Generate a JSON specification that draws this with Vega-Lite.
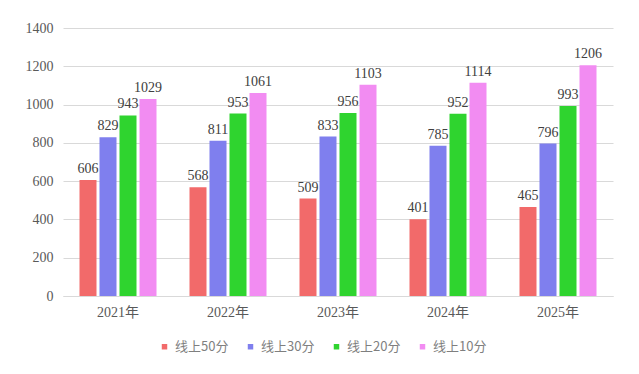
{
  "$schema": "https://vega.github.io/schema/vega-lite/v6.json",
  "width": 550,
  "height": 268,
  "autosize": {"type": "none"},
  "padding": {"left": 63, "top": 28, "right": 26, "bottom": 78},
  "background": "white",
  "config": {
    "view": {"stroke": null},
    "font": "Liberation Serif"
  },
  "data": {
    "values": [
      {"year": "2021年", "series": "线上50分", "value": 606},
      {"year": "2021年", "series": "线上30分", "value": 829},
      {"year": "2021年", "series": "线上20分", "value": 943},
      {"year": "2021年", "series": "线上10分", "value": 1029},
      {"year": "2022年", "series": "线上50分", "value": 568},
      {"year": "2022年", "series": "线上30分", "value": 811},
      {"year": "2022年", "series": "线上20分", "value": 953},
      {"year": "2022年", "series": "线上10分", "value": 1061},
      {"year": "2023年", "series": "线上50分", "value": 509},
      {"year": "2023年", "series": "线上30分", "value": 833},
      {"year": "2023年", "series": "线上20分", "value": 956},
      {"year": "2023年", "series": "线上10分", "value": 1103},
      {"year": "2024年", "series": "线上50分", "value": 401},
      {"year": "2024年", "series": "线上30分", "value": 785},
      {"year": "2024年", "series": "线上20分", "value": 952},
      {"year": "2024年", "series": "线上10分", "value": 1114},
      {"year": "2025年", "series": "线上50分", "value": 465},
      {"year": "2025年", "series": "线上30分", "value": 796},
      {"year": "2025年", "series": "线上20分", "value": 993},
      {"year": "2025年", "series": "线上10分", "value": 1206}
    ]
  },
  "encoding": {
    "x": {
      "field": "year",
      "type": "nominal",
      "title": null,
      "scale": {"paddingInner": 0.3, "paddingOuter": 0.15},
      "axis": {
        "labelAngle": 0,
        "labelFont": "Liberation Serif, Noto Sans CJK SC",
        "labelFontSize": 14,
        "labelColor": "#595959",
        "labelPadding": 9,
        "ticks": false,
        "domainColor": "#d9d9d9",
        "grid": false
      }
    },
    "xOffset": {
      "field": "series",
      "sort": ["线上50分", "线上30分", "线上20分", "线上10分"],
      "scale": {"paddingInner": 0.15}
    },
    "y": {
      "field": "value",
      "type": "quantitative",
      "title": null,
      "scale": {"domain": [0, 1400], "nice": false},
      "axis": {
        "values": [0, 200, 400, 600, 800, 1000, 1200, 1400],
        "format": "d",
        "domain": false,
        "ticks": false,
        "labelFontSize": 14,
        "labelColor": "#595959",
        "labelPadding": 10,
        "gridColor": "#d9d9d9"
      }
    }
  },
  "layer": [
    {
      "mark": {"type": "bar"},
      "encoding": {
        "color": {
          "field": "series",
          "type": "nominal",
          "sort": ["线上50分", "线上30分", "线上20分", "线上10分"],
          "scale": {
            "domain": ["线上50分", "线上30分", "线上20分", "线上10分"],
            "range": ["#f26a6a", "#7f7fee", "#2fd42f", "#f28cf2"]
          },
          "legend": {
            "title": null,
            "orient": "none",
            "legendX": 95,
            "legendY": 312,
            "direction": "horizontal",
            "symbolType": "square",
            "symbolSize": 30,
            "labelFont": "Noto Sans CJK SC",
            "labelFontSize": 13,
            "labelColor": "#7f7f7f",
            "labelOffset": 4,
            "columnPadding": 15
          }
        }
      }
    },
    {
      "mark": {"type": "text", "baseline": "bottom", "dy": -4, "fontSize": 14, "color": "#404040"},
      "encoding": {
        "text": {"field": "value", "type": "quantitative"}
      }
    }
  ]
}
